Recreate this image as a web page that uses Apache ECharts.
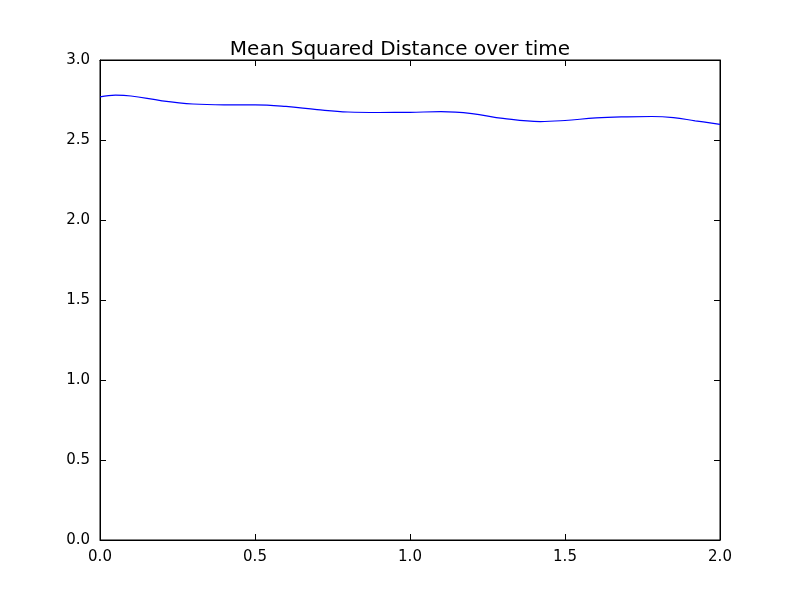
<!DOCTYPE html>
<html><head><meta charset="utf-8">
<script src="https://cdn.jsdelivr.net/npm/echarts@6/dist/echarts.min.js"></script>
<style>html,body{margin:0;background:#fff}#c{width:800px;height:600px}</style>
</head><body><div id="c"></div>
<script>
const times = [0.0, 0.05, 0.1, 0.2, 0.3, 0.4, 0.5, 0.6, 0.7, 0.8, 0.9, 1.0, 1.1, 1.2, 1.3, 1.42, 1.5, 1.6, 1.7, 1.78, 1.85, 1.92, 2.0];
const msd =   [2.77, 2.78, 2.775, 2.745, 2.725, 2.72, 2.72, 2.71, 2.69, 2.675, 2.672, 2.673, 2.677, 2.665, 2.635, 2.615, 2.622, 2.638, 2.645, 2.647, 2.64, 2.62, 2.598];
const chart = echarts.init(document.getElementById('c'));
const font = 'DejaVu Sans';
const ax = {
  axisLine:{show:true,onZero:false,lineStyle:{color:'#000'}},
  axisTick:{show:true,inside:true,length:6,lineStyle:{color:'#000'}},
  splitLine:{show:false},
  axisLabel:{color:'#000',fontFamily:font,fontSize:15,margin:10}
};
chart.setOption({
  animation:false,
  title:{text:'Mean Squared Distance over time',left:'center',top:35,textStyle:{fontFamily:font,fontSize:20,fontWeight:'normal',color:'#000'}},
  grid:{left:100,right:80,top:60,bottom:60,show:true,borderColor:'#000',borderWidth:1},
  xAxis:[Object.assign({type:'value',min:0,max:2,interval:0.5},ax,{axisLabel:Object.assign({},ax.axisLabel,{formatter:v=>v.toFixed(1)})}),
         Object.assign({type:'value',min:0,max:2,interval:0.5,position:'top'},ax,{axisLabel:{show:false}})],
  yAxis:[Object.assign({type:'value',min:0,max:3,interval:0.5},ax,{axisLabel:Object.assign({},ax.axisLabel,{formatter:v=>v.toFixed(1)})}),
         Object.assign({type:'value',min:0,max:3,interval:0.5,position:'right'},ax,{axisLabel:{show:false}})],
  series:[{type:'line',data:times.map((t,i)=>[t,msd[i]]),smooth:0.4,showSymbol:false,lineStyle:{color:'#0000ff',width:1.2}}]
});
</script></body></html>
